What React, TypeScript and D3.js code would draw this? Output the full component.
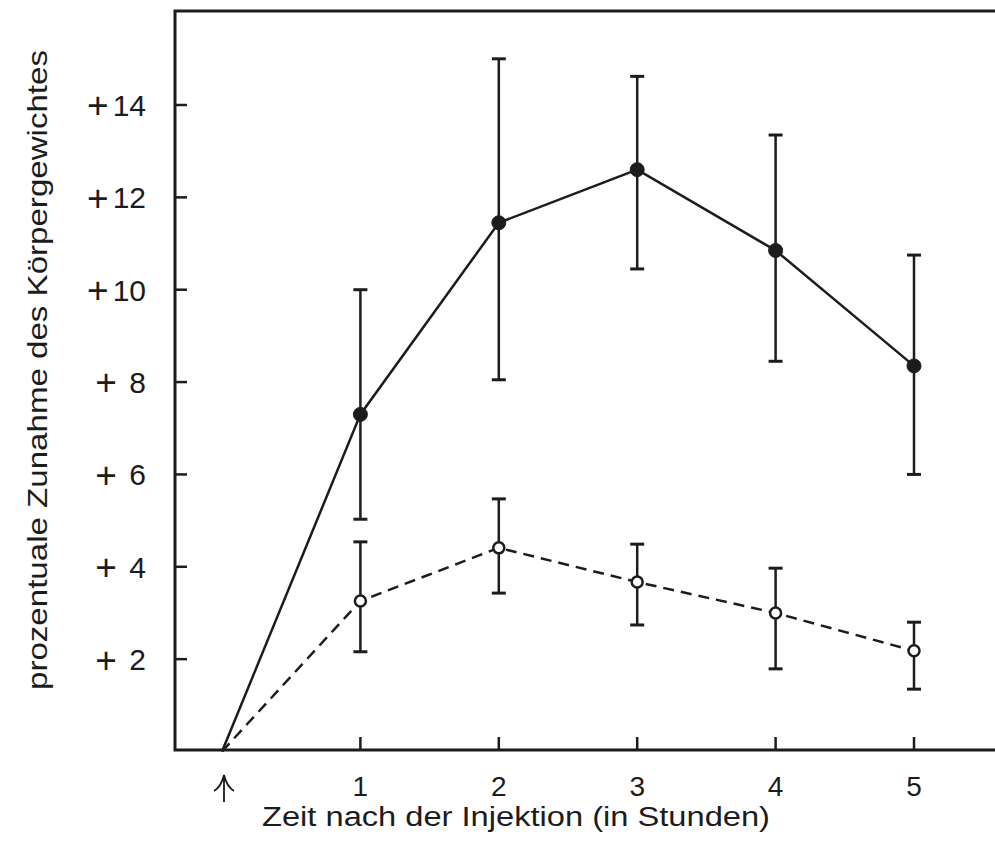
import * as d3 from "d3";
import { useEffect, useRef } from "react";

// Zeitpunkte in Stunden (0 = Injektion)
const hours = [0, 1, 2, 3, 4, 5];
// prozentuale Zunahme, obere Kurve (ausgefüllte Punkte)
const solidMean = [0, 7.3, 11.45, 12.6, 10.85, 8.35];
const solidLow = [null, 5.03, 8.05, 10.45, 8.45, 6.0];
const solidHigh = [null, 10.0, 15.0, 14.62, 13.35, 10.75];
// untere Kurve (offene Punkte)
const dashMean = [0, 3.26, 4.41, 3.67, 3.0, 2.18];
const dashLow = [null, 2.16, 3.43, 2.74, 1.79, 1.35];
const dashHigh = [null, 4.54, 5.47, 4.49, 3.97, 2.8];

const yTicks = [2, 4, 6, 8, 10, 12, 14];
const yTickLabels = [" 2", " 4", " 6", " 8", "10", "12", "14"];
const xTicks = [1, 2, 3, 4, 5];

const W = 995;
const H = 841;
const ink = "#1c1c1c";
const font = "'Liberation Sans', Arial, Helvetica, sans-serif";

const App = () => {
  const ref = useRef<SVGSVGElement>(null);

  useEffect(() => {
    const svg = d3.select(ref.current);
    svg.selectAll("*").remove();

    const frame = { left: 175, top: 11, bottom: 750 };
    const x = d3.scaleLinear().domain([0, 5]).range([222, 914]);
    const y = d3.scaleLinear().domain([0, 14]).range([751.5, 105]);

    // Rahmen (rechts offen, wie im Original abgeschnitten)
    svg.append("path")
      .attr("d", `M${W + 5},${frame.top} L${frame.left},${frame.top} L${frame.left},${frame.bottom} L${W + 5},${frame.bottom}`)
      .attr("fill", "none")
      .attr("stroke", ink)
      .attr("stroke-width", 3);

    // y-Ticks nach innen
    svg.append("g").selectAll("line")
      .data(yTicks)
      .join("line")
      .attr("x1", frame.left)
      .attr("x2", frame.left + 12)
      .attr("y1", d => y(d))
      .attr("y2", d => y(d))
      .attr("stroke", ink)
      .attr("stroke-width", 2.5);

    // Beschriftung: großes Plus + Zahl
    const yl = svg.append("g").selectAll("text")
      .data(yTicks)
      .join("text")
      .attr("x", 146)
      .attr("y", d => y(d))
      .attr("text-anchor", "end")
      .attr("font-family", font)
      .attr("font-size", 30)
      .attr("fill", ink)
      .attr("xml:space", "preserve")
      .style("white-space", "pre");
    yl.append("tspan")
      .attr("font-size", 37)
      .attr("dy", 13.4)
      .text("+");
    yl.append("tspan")
      .attr("dy", -2.6)
      .attr("dx", 4)
      .text((d, i) => yTickLabels[i]);

    // x-Ticks nach innen
    svg.append("g").selectAll("line")
      .data(xTicks)
      .join("line")
      .attr("x1", d => x(d))
      .attr("x2", d => x(d))
      .attr("y1", frame.bottom)
      .attr("y2", frame.bottom - 13)
      .attr("stroke", ink)
      .attr("stroke-width", 2.5);

    svg.append("g").selectAll("text")
      .data(xTicks)
      .join("text")
      .attr("x", d => x(d))
      .attr("y", 796)
      .attr("text-anchor", "middle")
      .attr("font-family", font)
      .attr("font-size", 28)
      .attr("fill", ink)
      .text(d => d);

    // Pfeil = Injektionszeitpunkt
    const ax = x(0) + 2;
    svg.append("path")
      .attr("d", `M${ax},776 L${ax},802 M${ax - 10},791 Q${ax - 3},787 ${ax},775 Q${ax + 3},787 ${ax + 10},791`)
      .attr("fill", "none")
      .attr("stroke", ink)
      .attr("stroke-width", 1.8);

    // Achsentitel
    svg.append("text")
      .attr("x", 516)
      .attr("y", 826)
      .attr("text-anchor", "middle")
      .attr("font-family", font)
      .attr("font-size", 27)
      .attr("fill", ink)
      .attr("textLength", 508)
      .attr("lengthAdjust", "spacingAndGlyphs")
      .text("Zeit nach der Injektion (in Stunden)");

    svg.append("text")
      .attr("transform", "translate(47,370) rotate(-90)")
      .attr("text-anchor", "middle")
      .attr("font-family", font)
      .attr("font-size", 28)
      .attr("fill", ink)
      .attr("textLength", 640)
      .attr("lengthAdjust", "spacingAndGlyphs")
      .text("prozentuale Zunahme des Körpergewichtes");

    const line = d3.line<number>()
      .x((d, i) => x(hours[i]))
      .y(d => y(d));

    const drawSeries = (mean: number[], low: (number | null)[], high: (number | null)[], dashed: boolean) => {
      const g = svg.append("g");
      const idx = hours.map((h, i) => i).filter(i => low[i] !== null);

      g.append("path")
        .attr("d", line(mean))
        .attr("fill", "none")
        .attr("stroke", ink)
        .attr("stroke-width", 2.5)
        .attr("stroke-dasharray", dashed ? "11,7" : null);

      g.selectAll(".bar")
        .data(idx)
        .join("line")
        .attr("x1", i => x(hours[i]))
        .attr("x2", i => x(hours[i]))
        .attr("y1", i => y(low[i] as number))
        .attr("y2", i => y(high[i] as number))
        .attr("stroke", ink)
        .attr("stroke-width", 2.5);

      const caps = idx.flatMap(i => [low[i] as number, high[i] as number].map(v => ({ i, v })));
      g.selectAll(".cap")
        .data(caps)
        .join("line")
        .attr("x1", d => x(hours[d.i]) - 7)
        .attr("x2", d => x(hours[d.i]) + 7)
        .attr("y1", d => y(d.v))
        .attr("y2", d => y(d.v))
        .attr("stroke", ink)
        .attr("stroke-width", 3);

      g.selectAll("circle")
        .data(idx)
        .join("circle")
        .attr("cx", i => x(hours[i]))
        .attr("cy", i => y(mean[i]))
        .attr("r", dashed ? 5.5 : 7)
        .attr("fill", dashed ? "#fff" : ink)
        .attr("stroke", ink)
        .attr("stroke-width", dashed ? 2.5 : 1);
    };

    drawSeries(solidMean, solidLow, solidHigh, false);
    drawSeries(dashMean, dashLow, dashHigh, true);
  }, []);

  return (
    <svg
      ref={ref}
      width={W}
      height={H}
      style={{ position: "absolute", left: 0, top: 0, background: "#fff" }}
    />
  );
};

export default App;
